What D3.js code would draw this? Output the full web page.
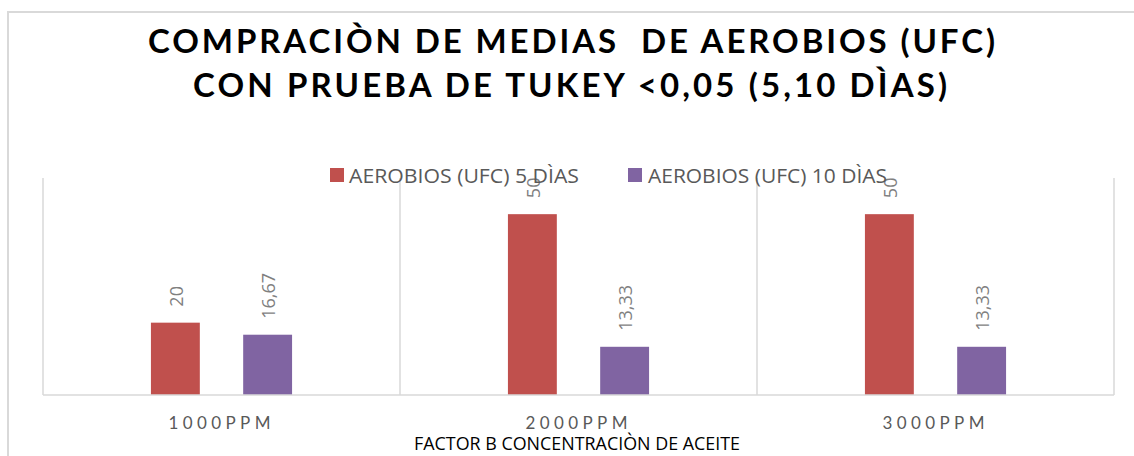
<!DOCTYPE html>
<html>
<head>
<meta charset="utf-8">
<script src="https://cdn.jsdelivr.net/npm/d3@7"></script>
<style>
  body { margin: 0; background: #fff; }
  svg { display: block; }
</style>
</head>
<body>
<script>
// data
const categories = ["1000PPM", "2000PPM", "3000PPM"];
const seriesNames = ["AEROBIOS (UFC) 5 DÌAS", "AEROBIOS (UFC) 10 DÌAS"];
const dias5 = [20, 50, 50];
const dias10 = [16.67, 13.33, 13.33];
const colors = ["#C0504D", "#8064A2"];
const titleLines = ["COMPRACIÒN DE MEDIAS  DE AEROBIOS (UFC)", "CON PRUEBA DE TUKEY <0,05 (5,10 DÌAS)"];
const xTitle = "FACTOR B CONCENTRACIÒN DE ACEITE";

let width = 1134;
let height = 456;

let svg = d3.select("body")
    .append("svg")
    .attr("width", width)
    .attr("height", height);

// chart frame (only top and left edges are in view)
svg.append("rect")
    .attr("x", 8).attr("y", 12)
    .attr("width", width + 20).attr("height", height + 20)
    .attr("fill", "none")
    .attr("stroke", "#d9d9d9")
    .attr("stroke-width", 2);

let plot = {left: 43, right: 1114, top: 178, bottom: 395};

let x0 = d3.scaleBand()
    .domain(categories)
    .range([plot.left, plot.right]);

let x1 = d3.scaleBand()
    .domain(seriesNames)
    .range([0, x0.bandwidth()])
    .paddingInner(0.47)
    .paddingOuter(1.17);

let y = d3.scaleLinear()
    .domain([0, 60])
    .range([plot.bottom, plot.top]);

// category separators
let seps = categories.map(c => x0(c)).concat([plot.right]);
svg.selectAll("line.sep")
    .data(seps)
    .join("line")
    .attr("class", "sep")
    .attr("x1", d => d).attr("x2", d => d)
    .attr("y1", plot.top).attr("y2", plot.bottom)
    .style("stroke", "#d9d9d9")
    .style("stroke-width", 1.5);

let rows = categories.map((c, i) => ({
    cat: c,
    vals: [
        {name: seriesNames[0], v: dias5[i], color: colors[0]},
        {name: seriesNames[1], v: dias10[i], color: colors[1]}
    ]
}));

let groups = svg.selectAll("g.cat")
    .data(rows)
    .join("g")
    .attr("class", "cat")
    .attr("transform", d => `translate(${x0(d.cat)},0)`);

groups.selectAll("rect")
    .data(d => d.vals)
    .join("rect")
    .attr("x", d => x1(d.name))
    .attr("y", d => y(d.v))
    .attr("width", x1.bandwidth())
    .attr("height", d => plot.bottom - y(d.v))
    .attr("fill", d => d.color);

groups.selectAll("text.lbl")
    .data(d => d.vals)
    .join("text")
    .attr("class", "lbl")
    .attr("transform", d => `translate(${x1(d.name) + x1.bandwidth() / 2 + 1},${y(d.v) - 16}) rotate(-90)`)
    .attr("dy", "0.36em")
    .attr("text-anchor", "start")
    .style("font-family", "'Open Sans', sans-serif")
    .style("font-size", "18px")
    .style("fill", "#7f7f7f")
    .text(d => String(d.v).replace(".", ","));

// baseline
svg.append("line")
    .attr("x1", plot.left).attr("x2", plot.right)
    .attr("y1", plot.bottom).attr("y2", plot.bottom)
    .style("stroke", "#d9d9d9")
    .style("stroke-width", 1.5);

// category labels
svg.selectAll("text.cat")
    .data(categories)
    .join("text")
    .attr("class", "cat")
    .attr("x", d => x0(d) + x0.bandwidth() / 2 - 2)
    .attr("y", 429)
    .attr("text-anchor", "middle")
    .attr("textLength", 102)
    .attr("lengthAdjust", "spacing")
    .style("font-family", "Lato, sans-serif")
    .style("font-size", "17px")
    .style("fill", "#595959")
    .text(d => d);

// axis title
svg.append("text")
    .attr("x", 414)
    .attr("y", 450)
    .attr("textLength", 326)
    .attr("lengthAdjust", "spacingAndGlyphs")
    .style("font-family", "'Liberation Sans Narrow', 'Open Sans', sans-serif")
    .style("font-size", "18px")
    .style("fill", "#000")
    .text(xTitle);

// title
let titleX = [[148, 847], [193, 754]];
svg.selectAll("text.title")
    .data(titleLines)
    .join("text")
    .attr("class", "title")
    .attr("x", (d, i) => titleX[i][0])
    .attr("y", (d, i) => i === 0 ? 53 : 97)
    .attr("textLength", (d, i) => titleX[i][1])
    .attr("lengthAdjust", "spacing")
    .attr("xml:space", "preserve")
    .style("white-space", "pre")
    .style("font-family", "Lato, sans-serif")
    .style("font-weight", "bold")
    .style("font-size", "33px")
    .style("fill", "#000")
    .text(d => d);

// legend
let legendPos = [{sq: 330, tx: 349, len: 230}, {sq: 628, tx: 648, len: 239}];
let legend = svg.selectAll("g.legend")
    .data(seriesNames)
    .join("g")
    .attr("class", "legend");

legend.append("rect")
    .attr("x", (d, i) => legendPos[i].sq)
    .attr("y", 168)
    .attr("width", 14)
    .attr("height", 14)
    .attr("fill", (d, i) => colors[i]);

legend.append("text")
    .attr("x", (d, i) => legendPos[i].tx)
    .attr("y", 183)
    .attr("textLength", (d, i) => legendPos[i].len)
    .attr("lengthAdjust", "spacingAndGlyphs")
    .style("font-family", "'Open Sans', sans-serif")
    .style("font-size", "20px")
    .style("fill", "#595959")
    .text(d => d);
</script>
</body>
</html>
